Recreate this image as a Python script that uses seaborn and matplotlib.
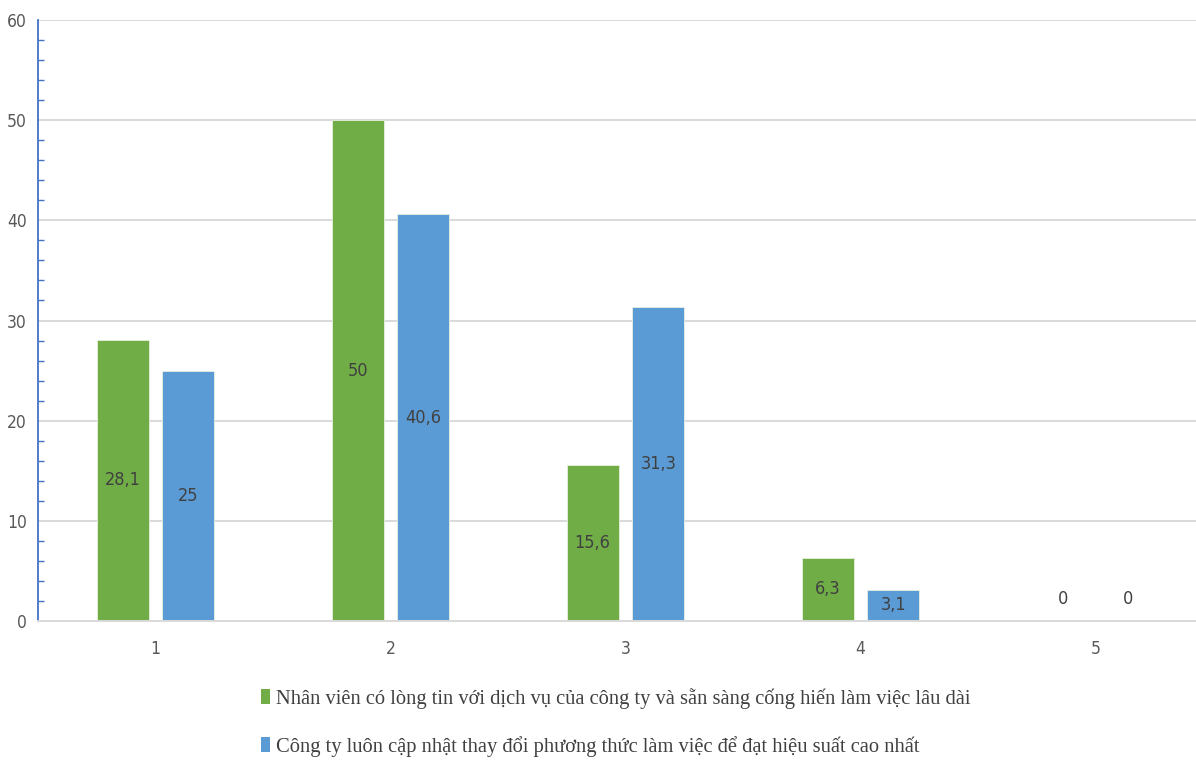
import matplotlib
matplotlib.use("Agg")
import matplotlib.pyplot as plt
from matplotlib.patches import Patch
from matplotlib.ticker import MultipleLocator
import seaborn as sns
import pandas as pd

levels = ["1", "2", "3", "4", "5"]
trust_service = [28.1, 50, 15.6, 6.3, 0]
update_methods = [25, 40.6, 31.3, 3.1, 0]
series_names = [
    "Nhân viên có lòng tin với dịch vụ của công ty và sẵn sàng cống hiến làm việc lâu dài",
    "Công ty luôn cập nhật thay đổi phương thức làm việc để đạt hiệu suất cao nhất",
]
colors = ["#70AD47", "#5B9BD5"]

df = pd.DataFrame({
    "level": levels * 2,
    "value": trust_service + update_methods,
    "series": [series_names[0]] * len(levels) + [series_names[1]] * len(levels),
})

sns.set_style("white")
num_font = ["Liberation Sans Narrow", "DejaVu Sans"]

fig = plt.figure(figsize=(11.96, 7.63), dpi=100)
ax = fig.add_axes([38 / 1196, 1 - 621 / 763, 1 - 38 / 1196, (621 - 20) / 763])

sns.barplot(data=df, x="level", y="value", hue="series", order=levels,
            hue_order=series_names, palette=colors, saturation=1,
            width=0.56, gap=0.21, edgecolor="#E8F0E0", linewidth=0.6,
            legend=False, ax=ax)

ax.set_ylim(0, 60)
ax.set_xlim(-0.5, -0.5 + (1196 - 38) / 235)
ax.yaxis.set_major_locator(MultipleLocator(10))
ax.yaxis.set_minor_locator(MultipleLocator(2))
ax.grid(axis="y", color="#D9D9D9", linewidth=1.4)
ax.set_axisbelow(True)
ax.set_xlabel("")
ax.set_ylabel("")

for side in ["top", "right"]:
    ax.spines[side].set_visible(False)
ax.spines["left"].set_color("#4472C4")
ax.spines["left"].set_linewidth(1.3)
ax.spines["bottom"].set_color("#D9D9D9")
ax.spines["bottom"].set_linewidth(1.4)

ax.tick_params(axis="y", which="major", direction="inout", length=8, width=1.2,
               color="#4472C4", labelcolor="#595959", labelsize=12.5, pad=4)
ax.tick_params(axis="y", which="minor", direction="in", length=4, width=1.0,
               color="#4472C4", left=True)
ax.tick_params(axis="x", length=0, labelcolor="#595959", labelsize=12.5, pad=14)
for lab in ax.get_yticklabels() + ax.get_xticklabels():
    lab.set_family(num_font)
    lab.set_fontstretch("condensed")

def fmt(v):
    return f"{v:g}".replace(".", ",")

for container, vals in zip(ax.containers, [trust_service, update_methods]):
    for bar, v in zip(container, vals):
        cx = bar.get_x() + bar.get_width() / 2
        if v == 0:
            ax.annotate(fmt(v), (cx, 0), xytext=(0, 16), textcoords="offset points",
                        ha="center", va="center", fontsize=13, color="#404040",
                        family=num_font, fontstretch="condensed")
        else:
            ax.text(cx, v / 2, fmt(v), ha="center", va="center", fontsize=13,
                    color="#404040", family=num_font, fontstretch="condensed")

handles = [Patch(facecolor=c, edgecolor="none") for c in colors]
fig.legend(handles, series_names, loc="upper left",
           bbox_to_anchor=(261 / 1196, 1 - 688 / 763), frameon=False,
           prop={"family": "Liberation Serif", "size": 14.8},
           labelcolor="#404040", handlelength=0.45, handleheight=0.75,
           handletextpad=0.3, labelspacing=1.3, borderaxespad=0, borderpad=0)

fig.savefig("out.png", dpi=100, facecolor="white")
